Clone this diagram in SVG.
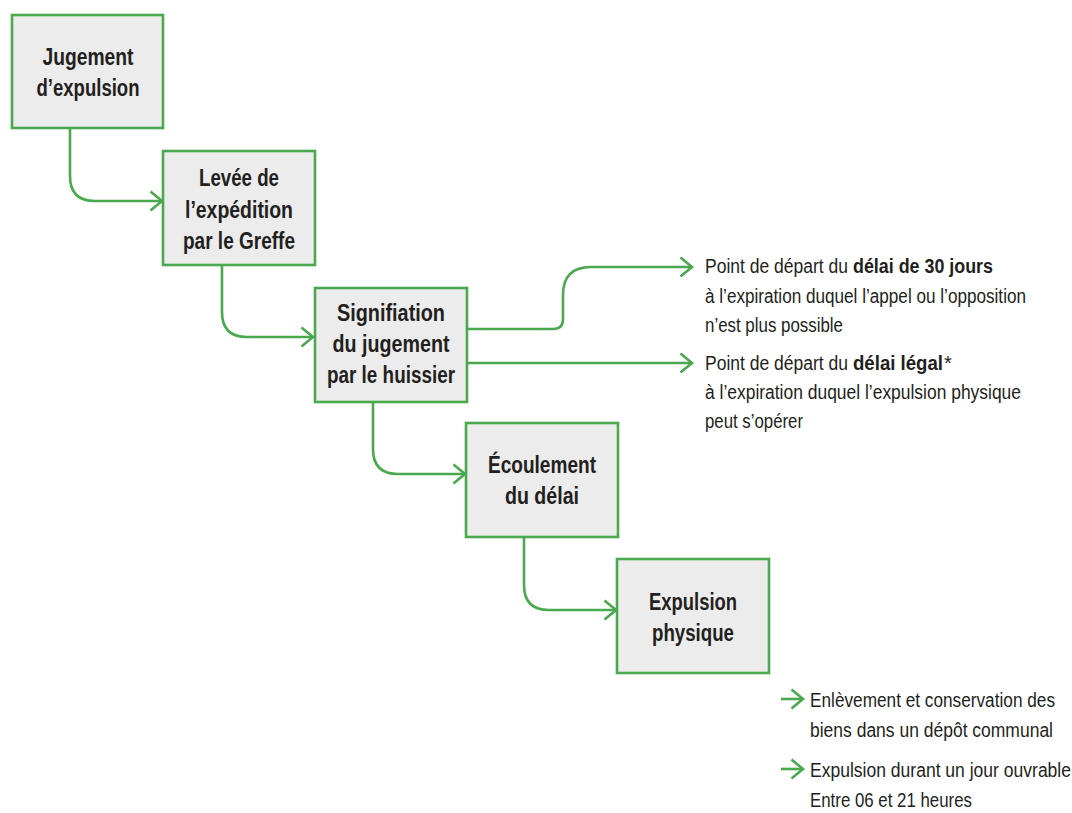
<svg xmlns="http://www.w3.org/2000/svg" width="1072" height="813" viewBox="0 0 1072 813">
  <style>
    .box { fill: #ebeceb; stroke: #4aa84e; stroke-width: 2.6; }
    .lbl { font-family: "Liberation Sans", Arial, sans-serif; font-weight: bold; font-size: 23px; fill: #231f20; text-anchor: middle; }
    .note { font-family: "Liberation Sans", Arial, sans-serif; font-size: 20px; fill: #231f20; }
    .b { font-weight: bold; }
    .conn { fill: none; stroke: #4aa84e; stroke-width: 2.6; }
  </style>
  <defs>
    <marker id="arrow" markerUnits="userSpaceOnUse" markerWidth="16" markerHeight="24" refX="13" refY="11" orient="auto">
      <path d="M1.5,1.5 L13,11 L1.5,20.5" fill="none" stroke="#4aa84e" stroke-width="2.6"/>
    </marker>
  </defs>

  <rect width="1072" height="813" fill="#ffffff"/>

  <!-- connectors -->
  <g id="connectors">
    <path class="conn" d="M70,128 V176 Q70,201 95,201 H162" marker-end="url(#arrow)"/>
    <path class="conn" d="M222,265 V312 Q222,337 247,337 H313" marker-end="url(#arrow)"/>
    <path class="conn" d="M373,402 V449 Q373,474 398,474 H465" marker-end="url(#arrow)"/>
    <path class="conn" d="M524,537 V585 Q524,610 549,610 H616" marker-end="url(#arrow)"/>
    <path class="conn" d="M467,329 H553 Q563,329 563,319 V295 Q563,267 591,267 H692" marker-end="url(#arrow)"/>
    <path class="conn" d="M467,363 H692" marker-end="url(#arrow)"/>
    <path class="conn" d="M781,699 H803" marker-end="url(#arrow)"/>
    <path class="conn" d="M781,769 H803" marker-end="url(#arrow)"/>
  </g>

  <!-- process steps -->
  <g id="node-jugement">
    <rect class="box" x="12" y="15" width="151" height="113"/>
    <text class="lbl" x="88" y="65" textLength="91" lengthAdjust="spacingAndGlyphs">Jugement</text>
    <text class="lbl" x="88" y="96" textLength="103" lengthAdjust="spacingAndGlyphs">d’expulsion</text>
  </g>
  <g id="node-levee">
    <rect class="box" x="163" y="151" width="152" height="114"/>
    <text class="lbl" x="239" y="186" textLength="80" lengthAdjust="spacingAndGlyphs">Levée de</text>
    <text class="lbl" x="239" y="218" textLength="108" lengthAdjust="spacingAndGlyphs">l’expédition</text>
    <text class="lbl" x="239" y="249" textLength="112" lengthAdjust="spacingAndGlyphs">par le Greffe</text>
  </g>
  <g id="node-signification">
    <rect class="box" x="315" y="288" width="152" height="114"/>
    <text class="lbl" x="391" y="321" textLength="108" lengthAdjust="spacingAndGlyphs">Signifiation</text>
    <text class="lbl" x="391" y="352" textLength="117" lengthAdjust="spacingAndGlyphs">du jugement</text>
    <text class="lbl" x="391" y="383" textLength="128" lengthAdjust="spacingAndGlyphs">par le huissier</text>
  </g>
  <g id="node-ecoulement">
    <rect class="box" x="466" y="423" width="152" height="114"/>
    <text class="lbl" x="542" y="473" textLength="108" lengthAdjust="spacingAndGlyphs">Écoulement</text>
    <text class="lbl" x="542" y="504" textLength="74" lengthAdjust="spacingAndGlyphs">du délai</text>
  </g>
  <g id="node-expulsion">
    <rect class="box" x="617" y="559" width="152" height="114"/>
    <text class="lbl" x="693" y="610" textLength="88" lengthAdjust="spacingAndGlyphs">Expulsion</text>
    <text class="lbl" x="693" y="641" textLength="82" lengthAdjust="spacingAndGlyphs">physique</text>
  </g>

  <!-- notes -->
  <g id="note-30-jours">
    <text class="note" x="705" y="273" textLength="143" lengthAdjust="spacingAndGlyphs">Point de départ du</text>
    <text class="note b" x="853" y="273" textLength="140" lengthAdjust="spacingAndGlyphs">délai de 30 jours</text>
    <text class="note" x="705" y="303" textLength="321" lengthAdjust="spacingAndGlyphs">à l’expiration duquel l’appel ou l’opposition</text>
    <text class="note" x="705" y="332" textLength="138" lengthAdjust="spacingAndGlyphs">n’est plus possible</text>
  </g>
  <g id="note-delai-legal">
    <text class="note" x="705" y="370" textLength="143" lengthAdjust="spacingAndGlyphs">Point de départ du</text>
    <text class="note b" x="853" y="370" textLength="90" lengthAdjust="spacingAndGlyphs">délai légal</text>
    <text class="note" x="944" y="370">*</text>
    <text class="note" x="705" y="399" textLength="316" lengthAdjust="spacingAndGlyphs">à l’expiration duquel l’expulsion physique</text>
    <text class="note" x="705" y="428" textLength="98" lengthAdjust="spacingAndGlyphs">peut s’opérer</text>
  </g>
  <g id="note-biens">
    <text class="note" x="810" y="707" textLength="245" lengthAdjust="spacingAndGlyphs">Enlèvement et conservation des</text>
    <text class="note" x="810" y="737" textLength="243" lengthAdjust="spacingAndGlyphs">biens dans un dépôt communal</text>
  </g>
  <g id="note-horaire">
    <text class="note" x="810" y="777" textLength="261" lengthAdjust="spacingAndGlyphs">Expulsion durant un jour ouvrable</text>
    <text class="note" x="810" y="807" textLength="162" lengthAdjust="spacingAndGlyphs">Entre 06 et 21 heures</text>
  </g>
</svg>
